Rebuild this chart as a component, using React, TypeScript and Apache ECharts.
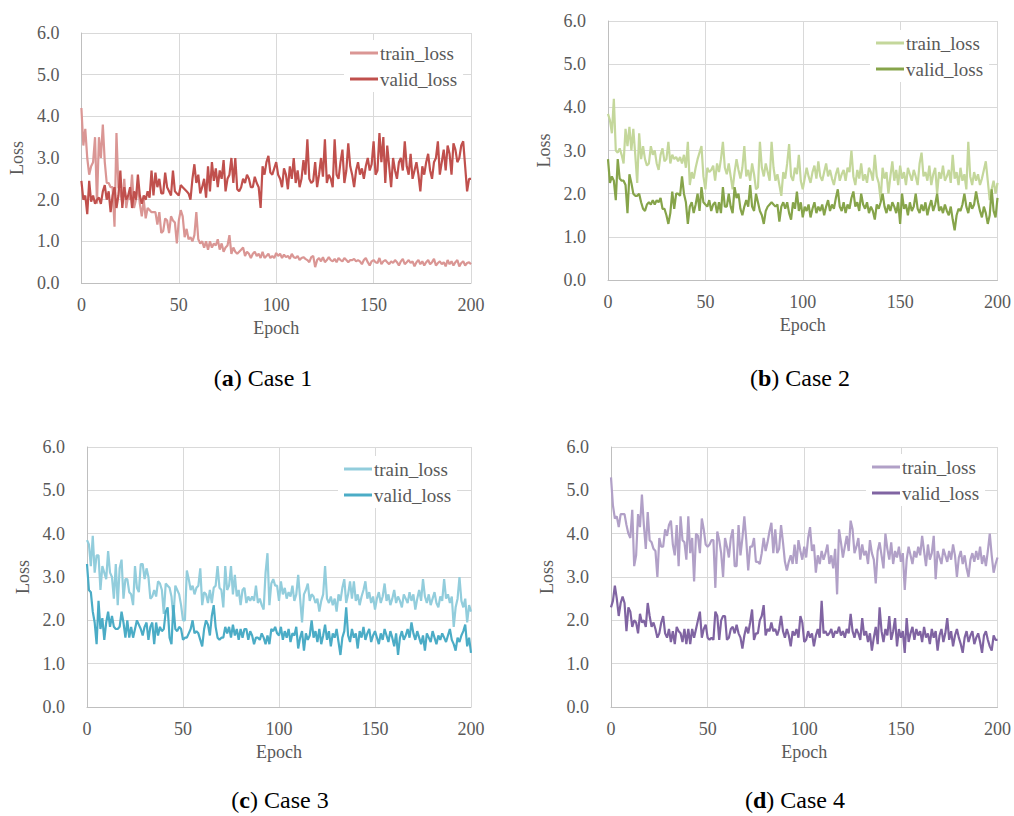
import React, { useEffect, useRef } from "react";
import * as echarts from "echarts";

const epochTicks = [0, 50, 100, 150, 200];
const lossTicks = [0, 1, 2, 3, 4, 5, 6];

const case1Train = [
  4.2, 3.3, 3.7, 3.0, 2.6, 2.8, 2.9, 3.5, 1.9, 3.5,
  3.0, 3.8, 2.9, 2.4, 2.4, 2.3, 2.3, 1.35, 3.6, 2.3,
  2.2, 1.9, 2.5, 1.8, 2.1, 2.0, 2.6, 1.8, 2.0, 2.4,
  1.9, 1.6, 2.0, 1.55, 1.8, 1.75, 1.7, 1.7, 1.7, 1.4,
  1.7, 1.2, 1.25, 1.55, 1.5, 1.2, 1.6, 1.5, 1.45, 0.95,
  1.5, 1.75, 1.6, 1.1, 1.3, 1.05, 1.1, 1.0, 1.15, 1.7,
  1.05, 0.95, 1.0, 0.85, 1.0, 0.8, 1.0, 0.85, 0.95, 0.9,
  1.05, 0.8, 0.95, 0.75, 0.85, 0.9, 1.15, 0.7, 0.85, 0.75,
  0.7, 0.75, 0.8, 0.85, 0.65, 0.75, 0.7, 0.6, 0.7, 0.75,
  0.65, 0.7, 0.6, 0.75, 0.6, 0.65, 0.7, 0.6, 0.65, 0.6,
  0.72, 0.65, 0.7, 0.6, 0.68, 0.62, 0.65, 0.58, 0.7, 0.62,
  0.6, 0.65, 0.55, 0.6, 0.62, 0.58, 0.55, 0.5, 0.62, 0.65,
  0.38, 0.55, 0.6, 0.52, 0.62, 0.5, 0.55, 0.62, 0.55, 0.52,
  0.58, 0.5, 0.6, 0.55, 0.52, 0.6, 0.55, 0.5, 0.55, 0.55,
  0.58, 0.52, 0.55, 0.52, 0.45, 0.55, 0.6, 0.5, 0.42, 0.52,
  0.55, 0.5, 0.48, 0.6, 0.45, 0.52, 0.55, 0.5, 0.45, 0.52,
  0.48, 0.55, 0.5, 0.42, 0.52, 0.58, 0.45, 0.5, 0.55, 0.48,
  0.52, 0.4, 0.5, 0.55, 0.45, 0.52, 0.42, 0.5, 0.55, 0.45,
  0.5, 0.58, 0.42, 0.48, 0.52, 0.45, 0.5, 0.4, 0.55, 0.45,
  0.52, 0.42, 0.5, 0.55, 0.4, 0.48, 0.52, 0.42, 0.48, 0.5,
  0.45,
];
const case1Valid = [
  2.45, 2.0, 2.1, 1.65, 2.45, 1.95, 2.1, 1.9, 2.0, 2.05,
  1.9, 2.2, 2.35, 2.0, 2.2, 1.7, 2.1, 2.3, 1.8, 2.1,
  2.7, 1.8, 2.3, 2.0, 2.1, 2.3, 1.8, 2.2, 2.0, 2.6,
  2.1, 1.9, 2.1, 2.0, 2.2, 2.05, 2.7, 2.1, 2.65, 2.3,
  2.5, 2.15, 2.15, 2.65, 2.3, 2.2, 2.1, 2.7, 2.2, 2.15,
  2.1, 2.35, 2.3, 2.25, 2.2, 2.15, 2.0, 2.5, 2.85, 2.4,
  2.6, 2.15, 2.3, 2.5, 2.05, 2.8, 2.2, 2.9, 2.45, 2.75,
  2.3, 2.7, 2.5, 2.95, 2.2, 2.5, 2.6, 3.0, 2.4, 3.0,
  2.25, 2.2, 2.3, 2.5, 2.4, 2.6, 2.5, 2.3, 2.3, 2.55,
  2.4, 2.3, 1.8, 2.8, 2.6, 2.9, 3.05, 2.65, 2.6, 2.75,
  2.9, 2.6, 2.5, 2.3, 2.75, 2.6, 2.25, 2.8, 2.5, 3.0,
  2.4, 2.7, 2.3, 2.5, 2.95, 2.6, 3.45, 2.5, 2.4, 2.45,
  2.9, 2.3, 2.6, 3.0, 2.55, 3.45, 2.4, 2.6, 2.5, 2.3,
  3.45, 2.6, 2.5, 2.9, 3.2, 2.4, 2.7, 3.35, 2.8, 2.6,
  2.3, 2.7, 2.9, 2.6, 2.75, 2.5, 2.8, 3.0, 2.7, 2.85,
  3.4, 2.6, 2.7, 3.6, 2.9, 3.5, 2.4, 3.3, 2.8, 2.3,
  3.0, 2.7, 2.5, 2.9, 3.0, 2.7, 3.4, 2.8, 2.6, 3.1,
  2.5, 2.7, 2.9, 2.6, 2.2, 2.8, 2.6, 2.9, 3.1, 2.7,
  2.5, 2.9, 3.0, 3.4, 2.6, 2.9, 3.2, 2.7, 3.3, 3.1,
  2.6, 3.35, 3.2, 2.9, 3.0, 3.3, 3.4, 2.8, 2.2, 2.5,
  2.5,
];

const case2Train = [
  3.85, 3.7, 3.4, 4.2, 3.0, 2.95, 3.05, 2.9, 2.7, 3.5,
  3.1, 3.55, 3.0, 3.5, 2.9, 2.25, 3.4, 2.8, 3.1, 2.8,
  2.65, 2.7, 3.1, 2.9, 3.0, 2.7, 2.55, 2.9, 3.05, 2.75,
  2.8, 3.2, 2.7, 2.9, 2.8, 2.85, 2.75, 2.85, 2.7, 2.9,
  2.6, 3.2, 2.2, 2.5, 2.35, 2.6, 2.8, 2.95, 3.1, 2.4,
  2.1, 2.6, 2.5, 2.55, 2.65, 2.3, 2.7, 2.5, 2.8, 3.2,
  2.6, 2.45, 2.7, 2.4, 2.1, 2.5, 2.8, 2.55, 2.35, 2.6,
  3.1, 2.4, 2.55, 2.3, 2.7, 2.45, 2.1, 2.15, 3.2, 2.6,
  2.4, 2.7, 2.5, 2.3, 3.2, 2.6, 2.3, 2.45, 2.2, 1.95,
  2.5, 2.35, 2.7, 3.15, 2.4, 2.3, 2.6, 2.45, 2.9, 2.3,
  2.1, 2.35, 2.6, 2.4, 2.25, 2.5, 2.65, 2.35, 2.75, 2.4,
  2.3, 2.5, 2.7, 2.4, 2.55, 2.35, 2.2, 2.45, 2.6, 2.3,
  2.45, 2.55, 2.3, 2.6, 2.5, 3.0, 2.4, 2.2, 2.55, 2.35,
  2.7, 2.3, 2.45, 2.25, 2.6, 2.5, 2.3, 2.9, 2.4, 2.25,
  1.85, 2.6, 2.35, 2.5, 2.0, 2.4, 2.75, 2.3, 2.55, 2.2,
  2.65, 2.35, 2.5, 2.2, 2.6, 2.45, 2.3, 2.55, 2.4, 2.2,
  2.7, 2.95, 2.4, 2.5, 2.3, 2.65, 2.2, 2.45, 2.6, 2.0,
  2.5, 2.35, 2.65, 2.3, 2.4, 2.55, 2.25, 2.9, 2.35, 2.5,
  2.2, 2.6, 2.3, 2.45, 2.1, 3.2, 2.4, 2.2, 2.5, 2.3,
  2.45, 2.2, 2.35, 2.55, 2.75, 2.3, 1.85, 2.1, 2.3, 2.0,
  2.25,
];
const case2Valid = [
  2.8, 2.25, 2.4, 2.3, 1.85, 2.8, 2.35, 2.3, 2.3, 2.2,
  1.55, 2.45, 2.25, 2.0, 1.95, 1.95, 2.0, 1.8, 1.65, 1.6,
  1.75, 1.8, 1.75, 1.85, 1.75, 1.85, 1.8, 1.9, 1.65, 1.65,
  1.5, 1.3, 1.55, 2.05, 1.65, 2.0, 2.0, 1.95, 2.4, 2.0,
  1.8, 1.3, 1.7, 1.8, 1.55, 1.75, 2.0, 1.6, 2.15, 1.8,
  1.75, 1.7, 1.85, 1.6, 1.75, 1.8, 1.55, 1.8, 1.55, 2.15,
  1.7, 1.7, 2.0, 1.7, 1.55, 2.15, 1.9, 2.0, 1.65, 1.5,
  1.7, 1.85, 1.7, 2.2, 1.7, 1.6, 2.0, 1.8, 1.6, 1.5,
  1.3, 1.6, 1.7, 1.75, 1.8, 1.75, 1.7, 1.75, 1.35, 1.7,
  1.8, 1.65, 1.8, 1.55, 1.4, 1.8, 1.65, 2.05, 1.6, 1.8,
  1.45, 1.7, 1.6, 1.75, 1.45, 1.65, 1.8, 1.55, 1.7, 1.6,
  1.75, 1.5, 1.7, 1.85, 1.6, 1.75, 1.65, 1.9, 2.1, 1.7,
  1.6, 1.8, 1.55, 1.75, 1.65, 1.9, 2.05, 1.7, 1.8, 1.6,
  2.0, 1.75, 1.65, 1.8, 1.55, 1.7, 1.6, 1.4, 1.75, 1.65,
  1.8, 2.0, 1.7, 1.55, 1.75, 1.6, 1.8, 1.7, 1.55, 1.8,
  1.3, 2.0, 1.65, 1.75, 1.5, 1.8, 1.6, 1.7, 2.0, 1.65,
  1.55, 1.75, 1.6, 1.8, 1.5, 1.7, 1.85, 1.6, 1.75, 2.0,
  1.6, 1.7, 1.55, 1.75, 1.6, 1.5, 1.7, 1.4, 1.15, 1.5,
  1.65, 1.6, 1.75, 2.0, 1.7, 1.55, 1.8, 1.65, 1.75, 2.05,
  1.8, 1.6, 1.45, 1.7, 1.55, 1.3, 1.5, 2.1, 1.6, 1.45,
  1.9,
];

const case3Train = [
  3.85, 3.75, 3.25, 3.95, 3.1, 3.5, 3.5, 2.7, 3.25, 3.1,
  2.95, 3.6, 3.1, 3.0, 2.5, 3.3, 2.35, 3.2, 3.4, 2.5,
  2.95, 2.95, 2.65, 2.6, 2.35, 3.25, 2.75, 2.65, 3.3, 3.3,
  2.95, 3.2, 3.0, 2.5, 2.55, 2.7, 2.55, 2.9, 2.85, 2.7,
  2.15, 2.85, 2.8, 2.75, 2.55, 2.05, 2.8, 2.7, 2.6, 2.35,
  2.0, 2.0, 3.15, 2.95, 2.7, 2.8, 2.6, 2.75, 2.8, 3.2,
  2.35, 2.65, 2.6, 2.4, 2.7, 2.4, 2.75, 2.8, 3.25, 2.75,
  2.7, 2.3, 3.25, 2.7, 2.8, 3.25, 2.6, 3.05, 2.55, 2.7,
  2.35, 2.7, 2.75, 2.4, 2.55, 2.45, 2.55, 2.45, 2.8, 2.4,
  2.5, 2.35, 2.25, 3.1, 3.55, 2.35, 2.85, 2.95, 2.8, 2.8,
  2.45, 2.9, 2.6, 2.75, 2.5, 2.65, 2.55, 2.8, 2.45, 2.6,
  3.05, 2.5, 1.95, 2.6, 2.7, 2.85, 2.45, 2.6, 2.55, 2.4,
  2.5, 2.2, 2.45, 2.6, 3.25, 2.5, 2.4, 2.55, 2.35, 2.5,
  2.2, 2.6, 2.45, 2.75, 2.95, 2.4, 2.6, 2.9, 2.5, 2.9,
  2.45, 2.6, 2.35, 2.55, 2.7, 2.9, 2.5, 2.65, 2.4, 2.55,
  2.25, 2.5, 2.65, 2.4, 2.55, 2.85, 2.45, 2.6, 2.35, 2.5,
  2.7, 2.4, 2.55, 2.45, 2.3, 2.6, 2.5, 2.4, 2.65, 2.45,
  2.6, 2.25, 2.5, 2.7, 2.45, 2.95, 2.55, 2.4, 2.6, 2.35,
  2.5, 2.65, 2.4, 2.3, 2.55, 2.45, 2.95, 2.5, 2.6, 2.4,
  2.55, 1.85, 2.3, 2.5, 3.0, 2.45, 2.3, 2.5, 1.95, 2.35,
  2.2,
];
const case3Valid = [
  3.3, 2.7, 2.65, 2.2, 1.95, 1.45, 2.45, 1.8, 2.05, 1.55,
  1.95, 2.2, 1.85, 2.1, 1.85, 1.8, 1.8, 1.85, 2.2, 1.95,
  1.6, 2.0, 1.6, 1.85, 1.6, 1.8, 2.0, 1.9, 1.8, 1.65,
  1.85, 1.95, 1.55, 1.85, 1.95, 1.45, 1.95, 1.65, 1.85, 1.75,
  1.8, 2.2, 2.3, 1.6, 1.45, 2.35, 1.8, 1.75, 1.85, 1.8,
  1.55, 1.6, 1.6, 1.7, 1.8, 2.0, 1.7, 1.75, 1.7, 1.55,
  1.4, 1.8, 2.0, 1.9, 1.65, 2.1, 2.35, 1.85, 1.6, 1.55,
  1.6, 1.6, 1.85, 1.7, 1.85, 1.6, 1.9, 1.65, 1.8, 1.55,
  1.8, 1.6, 1.8, 1.8, 1.55, 1.75, 1.65, 1.45, 1.6, 1.6,
  1.55, 1.7, 1.6, 1.45, 1.65, 1.45, 1.8, 1.75, 1.85, 1.7,
  1.65, 1.85, 1.55, 1.75, 1.6, 1.8, 1.5, 1.7, 1.65, 1.85,
  1.35, 1.6, 1.75, 1.3, 1.7, 1.55, 1.65, 2.0, 1.6, 1.75,
  1.5, 1.8, 1.45, 1.65, 1.9, 1.55, 1.75, 1.4, 1.7, 1.6,
  1.8, 1.5, 1.2, 1.6, 1.75, 2.3, 1.65, 1.5, 1.8, 1.6,
  1.7, 1.35, 1.75, 1.6, 1.85, 1.55, 1.7, 1.8, 1.5, 1.65,
  1.75, 1.6, 1.45, 1.7, 1.55, 1.8, 1.65, 1.5, 1.75, 1.6,
  1.4, 1.7, 1.2, 1.6, 1.75, 1.55, 1.65, 1.8, 1.6, 1.95,
  1.7, 1.55, 1.75, 1.6, 1.45, 1.65, 1.3, 1.7, 1.6, 1.5,
  1.75, 1.6, 1.45, 1.65, 1.55, 1.7, 1.6, 1.5, 1.65, 1.8,
  1.55, 1.45, 1.3, 1.6, 1.5, 1.65, 1.75, 1.9, 1.4, 1.6,
  1.25,
];

const case4Train = [
  5.3, 4.65, 4.35, 4.4, 4.15, 4.45, 4.45, 4.45, 4.2, 4.0,
  3.9, 4.55, 3.25, 3.5, 4.45, 4.15, 4.9, 4.2, 3.65, 4.5,
  3.85, 3.8, 3.65, 3.6, 3.0, 3.9, 3.7, 3.7, 4.1, 3.95,
  4.2, 4.3, 3.75, 3.5, 4.2, 3.25, 4.4, 3.85, 3.8, 3.4,
  4.4, 3.55, 3.9, 2.9, 4.0, 3.95, 3.55, 4.35, 4.1, 3.75,
  3.7, 3.75, 3.85, 3.85, 2.75, 4.05, 3.85, 3.55, 3.0, 3.9,
  3.7, 3.45, 3.9, 4.1, 3.25, 3.25, 4.2, 3.5, 3.9, 4.4,
  3.85, 3.15, 3.7, 3.7, 3.9, 3.35, 3.35, 3.3, 3.55, 3.9,
  3.6, 3.8, 4.05, 4.25, 3.55, 4.1, 3.55, 3.65, 4.2, 3.8,
  3.35, 3.15, 3.35, 3.5, 3.3, 3.75, 3.3, 3.85, 3.6, 3.4,
  3.7, 3.45, 3.9, 4.15, 3.6, 3.75, 3.1, 3.5, 3.3, 3.6,
  3.4, 3.55, 3.75, 3.3, 3.5, 3.2, 3.65, 2.6, 4.1, 3.8,
  3.45, 3.7, 3.95, 3.6, 4.3, 4.1, 3.55, 3.7, 3.9, 3.4,
  3.75, 3.5, 3.6, 3.3, 3.85, 3.55, 3.4, 2.85, 3.6, 3.8,
  3.5, 3.2, 4.0, 3.65, 3.4, 3.8, 3.3, 3.6, 3.45, 3.7,
  3.35, 3.55, 2.7, 3.4, 3.7, 3.5, 3.3, 3.6, 3.45, 3.7,
  3.5, 3.95, 3.6, 3.25, 3.75, 3.4, 3.55, 3.95, 2.95, 3.6,
  3.45, 3.3, 3.65, 3.5, 3.35, 3.6, 3.4, 3.75, 3.5, 3.0,
  3.45, 3.6, 3.3, 3.5, 3.2, 3.0, 3.4, 3.55, 3.35, 3.6,
  3.4, 3.7, 3.3, 3.5, 3.25, 3.6, 4.0, 3.5, 3.1, 3.3,
  3.45,
];
const case4Valid = [
  2.3, 2.45, 2.8, 2.5, 2.1, 2.4, 2.55, 2.4, 1.75, 2.3,
  2.2, 1.85, 2.0, 1.95, 1.7, 2.15, 1.95, 2.0, 1.85, 2.4,
  2.1, 1.85, 1.95, 1.8, 1.6, 1.7, 1.95, 2.1, 1.7, 1.6,
  1.8, 1.5, 1.75, 1.45, 1.85, 1.75, 1.7, 1.5, 1.8, 1.45,
  1.8, 1.45, 1.8, 1.6, 1.8, 2.0, 2.2, 1.6, 1.8, 1.9,
  1.6, 1.55, 1.6, 1.55, 2.2, 2.1, 1.55, 2.0, 2.1, 2.1,
  1.55, 1.6, 1.8, 1.85, 1.7, 1.9, 1.7, 1.6, 1.35, 1.65,
  1.85, 1.7, 1.95, 2.25, 1.55, 1.7, 1.7, 2.0, 2.1, 2.35,
  1.65, 1.8, 1.75, 1.95, 1.75, 1.8, 1.65, 1.8, 2.1, 1.75,
  1.6, 1.8, 1.65, 1.4, 1.75, 1.65, 1.8, 1.6, 2.1, 1.95,
  1.5, 1.55, 1.75, 1.6, 1.7, 1.4, 1.65, 1.8, 1.6, 2.45,
  1.7, 1.75, 1.65, 1.7, 1.8, 1.6, 1.75, 1.7, 1.85, 1.65,
  1.75, 1.6, 1.8, 1.7, 2.15, 1.75, 1.6, 1.8, 1.7, 1.55,
  2.05, 1.65, 1.75, 1.5, 1.7, 1.3, 1.6, 1.85, 1.45, 2.3,
  1.75, 1.5, 1.8, 1.65, 2.1, 1.55, 1.75, 2.05, 1.4, 1.8,
  1.6, 1.75, 1.25, 2.05, 1.5, 1.7, 1.85, 1.55, 1.8, 1.65,
  1.75, 1.5, 1.85, 1.6, 1.7, 1.45, 1.8, 1.6, 1.75, 1.3,
  1.65, 1.8, 1.5, 1.7, 2.05, 1.55, 1.75, 1.4, 1.65, 1.8,
  1.6, 1.45, 1.25, 1.6, 1.75, 1.5, 1.65, 1.75, 1.45, 1.6,
  1.7, 1.5, 1.25, 1.65, 1.75, 1.55, 1.4, 1.3, 1.65, 1.55,
  1.55,
];

const panels = [
  { letter: "a", title: " Case 1", train: case1Train, valid: case1Valid, trainColor: "#DA9694", validColor: "#C0504D",
    box: { left: 0, top: 0 }, grid: { left: 81, top: 33, width: 390, height: 250 }, legend: { left: 350, top: 53 }, caption: { x: 263, y: 378 } },
  { letter: "b", title: " Case 2", train: case2Train, valid: case2Valid, trainColor: "#C4D79B", validColor: "#86A44A",
    box: { left: 507, top: 0 }, grid: { left: 101, top: 21, width: 390, height: 259 }, legend: { left: 369, top: 43 }, caption: { x: 293, y: 378 } },
  { letter: "c", title: " Case 3", train: case3Train, valid: case3Valid, trainColor: "#92CDDC", validColor: "#4BACC6",
    box: { left: 0, top: 408 }, grid: { left: 87, top: 39, width: 384, height: 260 }, legend: { left: 344, top: 61 }, caption: { x: 280, y: 392 } },
  { letter: "d", title: " Case 4", train: case4Train, valid: case4Valid, trainColor: "#B1A0C7", validColor: "#8064A2",
    box: { left: 507, top: 408 }, grid: { left: 104, top: 39, width: 387, height: 260 }, legend: { left: 365, top: 59 }, caption: { x: 288, y: 392 } },
];

const FONT = "'Liberation Serif', 'Times New Roman', serif";
const TXT = "#595959";

function Panel({ p }: { p: any }) {
  const ref = useRef<HTMLDivElement>(null);
  useEffect(() => {
    if (!ref.current) return;
    const chart = echarts.init(ref.current, undefined, { renderer: "svg" });
    const toPts = (arr: number[]) => arr.map((v, i) => [i, v]);
    chart.setOption({
      animation: false,
      backgroundColor: "#fff",
      grid: { ...p.grid, containLabel: false },
      xAxis: {
        type: "value",
        min: epochTicks[0],
        max: epochTicks[epochTicks.length - 1],
        interval: 50,
        axisLine: { show: true, lineStyle: { color: "#BFBFBF", width: 1 } },
        axisTick: { show: false },
        splitLine: { show: true, lineStyle: { color: "#D9D9D9", width: 1 } },
        axisLabel: { color: TXT, fontSize: 18, fontFamily: FONT, margin: 13 },
        name: "Epoch",
        nameLocation: "middle",
        nameGap: 34,
        nameTextStyle: { color: TXT, fontSize: 18, fontFamily: FONT },
      },
      yAxis: {
        type: "value",
        min: lossTicks[0],
        max: lossTicks[lossTicks.length - 1],
        interval: 1,
        axisLine: { show: true, lineStyle: { color: "#BFBFBF", width: 1 } },
        axisTick: { show: false },
        splitLine: { show: true, lineStyle: { color: "#D9D9D9", width: 1 } },
        axisLabel: { color: TXT, fontSize: 18, fontFamily: FONT, margin: 22, formatter: (v: number) => v.toFixed(1) },
        name: "Loss",
        nameLocation: "middle",
        nameGap: 50,
        nameTextStyle: { color: TXT, fontSize: 18, fontFamily: FONT },
      },
      legend: {
        orient: "vertical",
        left: p.legend.left - 6,
        top: p.legend.top - 13,
        backgroundColor: "#fff",
        padding: [3, 6, 3, 6],
        itemGap: 6,
        itemWidth: 28,
        itemHeight: 3,
        icon: "rect",
        textStyle: { color: TXT, fontSize: 19, fontFamily: FONT, lineHeight: 20, padding: [0, 0, 0, -3] },
        data: ["train_loss", "valid_loss"],
      },
      series: [
        { name: "train_loss", type: "line", data: toPts(p.train), showSymbol: false, symbol: "none",
          lineStyle: { color: p.trainColor, width: 2.2 }, itemStyle: { color: p.trainColor } },
        { name: "valid_loss", type: "line", data: toPts(p.valid), showSymbol: false, symbol: "none",
          lineStyle: { color: p.validColor, width: 2.2 }, itemStyle: { color: p.validColor } },
      ],
      graphic: [
        {
          type: "text",
          x: p.caption.x,
          y: p.caption.y,
          style: {
            text: "{n|(}{b|" + p.letter + "}{n|)" + p.title + "}",
            align: "center",
            verticalAlign: "middle",
            rich: {
              n: { fontSize: 24, fontFamily: FONT, fill: "#000" },
              b: { fontSize: 24, fontFamily: FONT, fontWeight: "bold", fill: "#000" },
            },
          },
        },
      ],
    });
    return () => chart.dispose();
  }, [p]);
  return (
    <div
      ref={ref}
      style={{ position: "absolute", left: p.box.left, top: p.box.top, width: 507, height: 408 }}
    />
  );
}

export default function App() {
  useEffect(() => {
    document.body.style.margin = "0";
  }, []);
  return (
    <div style={{ position: "absolute", left: 0, top: 0, width: 1014, height: 816, background: "#fff" }}>
      {panels.map((p) => (
        <Panel key={p.letter} p={p} />
      ))}
    </div>
  );
}
